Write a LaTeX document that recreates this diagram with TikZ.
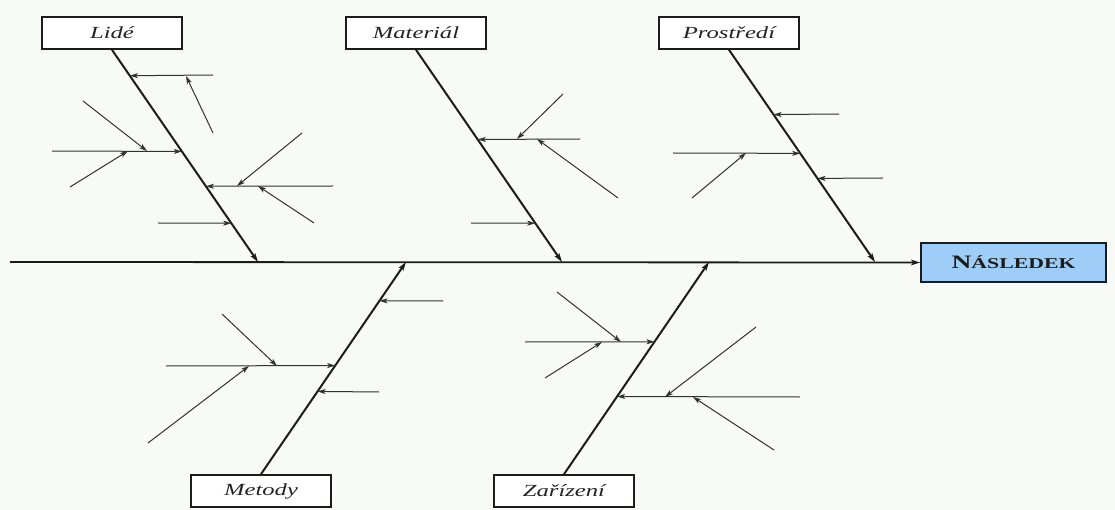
\documentclass[tikz,border=0pt]{standalone}
\usepackage{fontspec}
\setmainfont{Liberation Serif}
\newfontfamily\labfont[FakeStretch=1.45]{Liberation Serif}
\usetikzlibrary{arrows.meta,calc}
\definecolor{bgc}{RGB}{247,250,247}
\definecolor{effc}{RGB}{158,206,248}
\definecolor{ink}{RGB}{28,28,28}
\definecolor{subink}{RGB}{50,50,50}
\definecolor{txt}{RGB}{35,35,35}
\begin{document}
\begin{tikzpicture}[x=1pt,y=-1pt,
  catbox/.style={draw=ink,line width=1.7pt,fill=white,minimum width=140pt,minimum height=32pt,inner sep=0pt,
    text=txt,font=\labfont\itshape\fontsize{17}{17}\selectfont},
  effbox/.style={draw=ink,line width=1.7pt,fill=effc,minimum width=185pt,minimum height=39pt,inner sep=0pt,
    text=ink,font=\labfont\bfseries},
  spine/.style={draw=ink,line width=1.8pt,-{Stealth[length=9pt,width=5.5pt,inset=2pt]}},
  bone/.style={draw=ink,line width=2pt,-{Stealth[length=9pt,width=5.5pt,inset=2pt]}},
  sub/.style={draw=subink,line width=1pt,-{Stealth[length=8pt,width=5pt,inset=2pt]}}
]
\fill[bgc] (0,0) rectangle (1115,510);
\useasboundingbox (0,0) rectangle (1115,510);

% category boxes
\node[catbox] (lide) at (112,33) {Lidé};
\node[catbox] (mat) at (416,33) {Materiál};
\node[catbox] (pro) at (729,33) {Prostředí};
\node[catbox] (met) at (261,491) {Metody};
\node[catbox] (zar) at (564,491) {Zařízení};
\node[effbox] (eff) at (1013.5,262.5) {\fontsize{19}{19}\selectfont N\fontsize{15}{15}\selectfont ÁSLEDEK};

% spine
\coordinate (tail) at (10,262);
\draw[spine] (tail) -- (eff.west);

% joints on spine
\coordinate (jL) at (258,262);
\coordinate (jM) at (562,262);
\coordinate (jP) at (875,262);
\coordinate (jMe) at (406,262);
\coordinate (jZ) at (709,262);

% bones
\draw[bone] (lide.south) -- (jL);
\draw[bone] (mat.south) -- (jM);
\draw[bone] (pro.south) -- (jP);
\draw[bone] (met.north) -- (jMe);
\draw[bone] (zar.north) -- (jZ);

% ---------- Lidé ----------
\coordinate (L1) at ($(lide.south)!0.122!(jL)$);
\coordinate (L2) at ($(lide.south)!0.479!(jL)$);
\coordinate (L3) at ($(lide.south)!0.643!(jL)$);
\coordinate (L4) at ($(lide.south)!0.817!(jL)$);
\coordinate (L1s) at (213,75);
\coordinate (L2s) at (52,151);
\coordinate (L3s) at (333,186);
\coordinate (L4s) at (158,223);
\draw[sub] (L1s) -- (L1);
\draw[sub] (L2s) -- (L2);
\draw[sub] (L3s) -- (L3);
\draw[sub] (L4s) -- (L4);
\coordinate (L1a) at (213,133); \coordinate (L1ae) at (186,76);
\draw[sub] (L1a) -- (L1ae);
\coordinate (L2a) at (83,101); \coordinate (L2ae) at (147,151);
\coordinate (L2b) at (70,187); \coordinate (L2be) at (128,151);
\draw[sub] (L2a) -- (L2ae);
\draw[sub] (L2b) -- (L2be);
\coordinate (L3a) at (302,133); \coordinate (L3ae) at (237,186);
\coordinate (L3b) at (314,223); \coordinate (L3be) at (258,186);
\draw[sub] (L3a) -- (L3ae);
\draw[sub] (L3b) -- (L3be);

% ---------- Materiál ----------
\coordinate (M1) at ($(mat.south)!0.4225!(jM)$);
\coordinate (M2) at ($(mat.south)!0.817!(jM)$);
\coordinate (M1s) at (580,139);
\coordinate (M2s) at (471,223);
\draw[sub] (M1s) -- (M1);
\draw[sub] (M2s) -- (M2);
\coordinate (M1a) at (563,94); \coordinate (M1ae) at (517,139);
\coordinate (M1b) at (618,198); \coordinate (M1be) at (537,139);
\draw[sub] (M1a) -- (M1ae);
\draw[sub] (M1b) -- (M1be);

% ---------- Prostředí ----------
\coordinate (P1) at ($(pro.south)!0.305!(jP)$);
\coordinate (P2) at ($(pro.south)!0.488!(jP)$);
\coordinate (P3) at ($(pro.south)!0.606!(jP)$);
\coordinate (P1s) at (839,114);
\coordinate (P2s) at (673,153);
\coordinate (P3s) at (883,178);
\draw[sub] (P1s) -- (P1);
\draw[sub] (P2s) -- (P2);
\draw[sub] (P3s) -- (P3);
\coordinate (P2a) at (692,198); \coordinate (P2ae) at (746,153);
\draw[sub] (P2a) -- (P2ae);

% ---------- Metody ----------
\coordinate (E1) at ($(met.north)!0.817!(jMe)$);
\coordinate (E2) at ($(met.north)!0.512!(jMe)$);
\coordinate (E3) at ($(met.north)!0.390!(jMe)$);
\coordinate (E1s) at (443,301);
\coordinate (E2s) at (166,366);
\coordinate (E3s) at (379,392);
\draw[sub] (E1s) -- (E1);
\draw[sub] (E2s) -- (E2);
\draw[sub] (E3s) -- (E3);
\coordinate (E2a) at (222,314); \coordinate (E2ae) at (277,366);
\coordinate (E2b) at (148,443); \coordinate (E2be) at (249,366);
\draw[sub] (E2a) -- (E2ae);
\draw[sub] (E2b) -- (E2be);

% ---------- Zařízení ----------
\coordinate (Z1) at ($(zar.north)!0.624!(jZ)$);
\coordinate (Z2) at ($(zar.north)!0.366!(jZ)$);
\coordinate (Z1s) at (525,342);
\coordinate (Z2s) at (800,397);
\draw[sub] (Z1s) -- (Z1);
\draw[sub] (Z2s) -- (Z2);
\coordinate (Z1a) at (557,292); \coordinate (Z1ae) at (621,342);
\coordinate (Z1b) at (545,378); \coordinate (Z1be) at (602,342);
\draw[sub] (Z1a) -- (Z1ae);
\draw[sub] (Z1b) -- (Z1be);
\coordinate (Z2a) at (756,327); \coordinate (Z2ae) at (665,397);
\coordinate (Z2b) at (774,450); \coordinate (Z2be) at (693,397);
\draw[sub] (Z2a) -- (Z2ae);
\draw[sub] (Z2b) -- (Z2be);
\end{tikzpicture}
\end{document}
